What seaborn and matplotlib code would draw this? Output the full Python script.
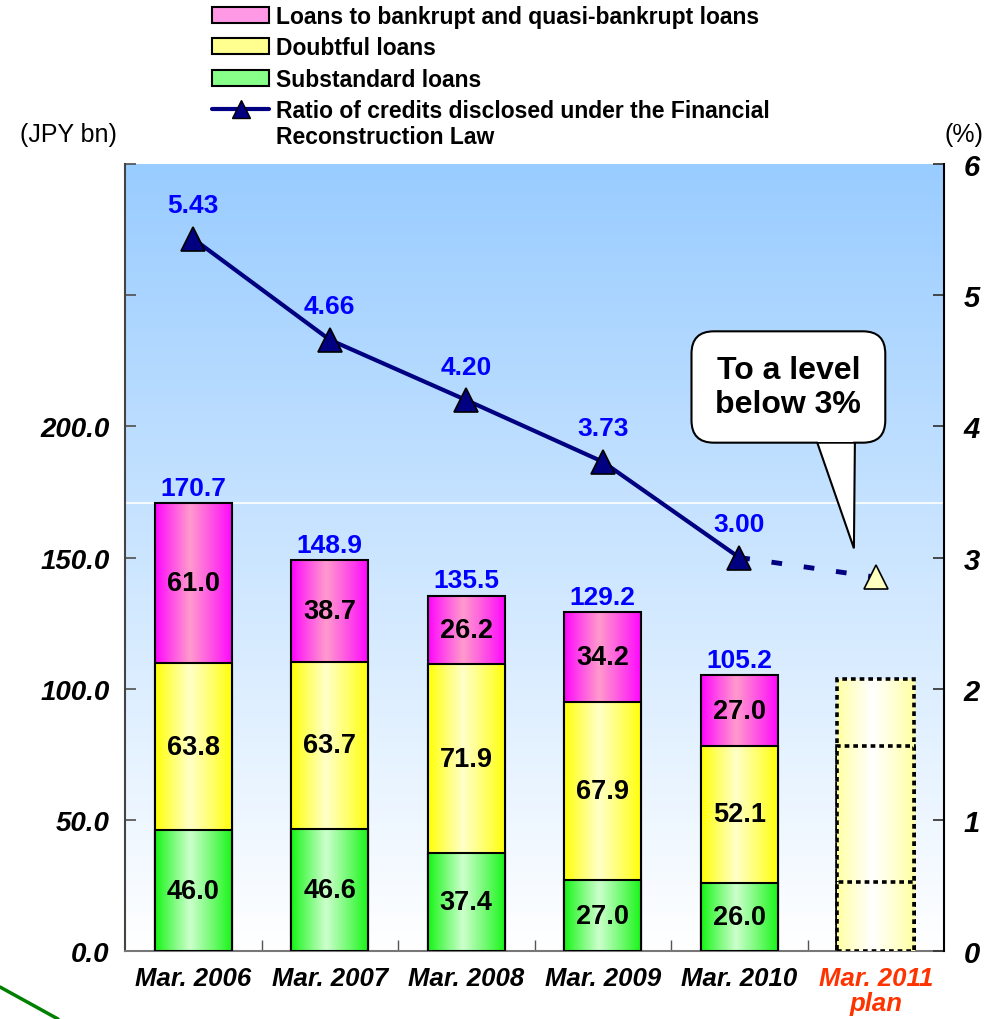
import numpy as np
import matplotlib
matplotlib.use("Agg")
import matplotlib.pyplot as plt
from matplotlib.colors import to_rgb
from matplotlib.patches import Patch, Polygon
from matplotlib.lines import Line2D
import seaborn as sns

# data
categories = ["Mar. 2006", "Mar. 2007", "Mar. 2008", "Mar. 2009", "Mar. 2010", "Mar. 2011\nplan"]
substandard = [46.0, 46.6, 37.4, 27.0, 26.0]
doubtful = [63.8, 63.7, 71.9, 67.9, 52.1]
bankrupt = [61.0, 38.7, 26.2, 34.2, 27.0]
totals = [170.7, 148.9, 135.5, 129.2, 105.2]
plan_segments = [26.3, 51.9, 25.5]  # outline only, no labels in the reference
ratio = [5.43, 4.66, 4.20, 3.73, 3.00]
ratio_plan = 2.85

left_ticks = [0, 50, 100, 150, 200, 250, 300]
left_labels = ["0.0", "50.0", "100.0", "150.0", "200.0", "", ""]
right_ticks = [0, 1, 2, 3, 4, 5, 6]

sns.set_theme(style="white")
plt.rcParams["font.family"] = ["Liberation Sans", "DejaVu Sans"]
plt.rcParams["text.color"] = "black"
plt.rcParams["xtick.labelcolor"] = "black"
plt.rcParams["ytick.labelcolor"] = "black"

NAVY = "#000080"
BLUE = "#0000FF"

fig = plt.figure(figsize=(10, 10.2), dpi=100)
ax = fig.add_axes([0.125, 0.0667, 0.819, 0.7715])

# background gradient (light blue at top to white at bottom)
top = np.array(to_rgb("#99CCFF"))
bot = np.array([1.0, 1.0, 1.0])
f = np.linspace(0, 1, 256)[:, None]
bg = (top * (1 - f) + bot * f)[:, None, :]
ax.imshow(bg, extent=[0, 1, 0, 1], transform=ax.transAxes, aspect="auto", zorder=0)
ax.axhline(totals[0], color="white", lw=1.2, zorder=0.5)

# cumulative heights, plan bar appended
s_all = substandard + [plan_segments[0]]
d_all = [a + b for a, b in zip(substandard, doubtful)] + [plan_segments[0] + plan_segments[1]]
t_all = [a + b + c for a, b, c in zip(substandard, doubtful, bankrupt)] + [sum(plan_segments)]

layers = [
    (t_all, "#FF00FF", "#FF9ACD"),
    (d_all, "#FFFF00", "#FFFFC8"),
    (s_all, "#10F510", "#CCFFCC"),
]
plan_edge, plan_mid = "#FFFFA0", "#FFFFFF"


def gradient_row(edge, mid, n=200):
    t = np.linspace(0, 1, n)
    p = np.where(t < 0.45, t / 0.45, (1 - t) / 0.55)
    p = np.clip(p, 0, 1) ** 0.9
    e = np.array(to_rgb(edge))
    m = np.array(to_rgb(mid))
    return (e[None, :] * (1 - p[:, None]) + m[None, :] * p[:, None])[None, :, :]


for k, (heights, edge, mid) in enumerate(layers):
    before = len(ax.patches)
    sns.barplot(x=categories, y=heights, color=edge, saturation=1, width=0.565,
                errorbar=None, ax=ax, edgecolor="black", linewidth=1.5)
    new = ax.patches[before:]
    for i, p in enumerate(new):
        z = 2 + k
        p.set_facecolor("none")
        p.set_zorder(z + 0.5)
        if i == len(new) - 1:
            img = gradient_row(plan_edge, plan_mid)
            if k == 0:
                p.set_linestyle((0, (1.3, 1.1)))
                p.set_linewidth(2.6)
            elif k == 1:
                p.set_linestyle((0, (1.3, 1.1)))
                p.set_linewidth(2.6)
            else:
                p.set_linestyle((0, (1.3, 1.1)))
                p.set_linewidth(2.6)
        else:
            img = gradient_row(edge, mid)
        x0, y0 = p.get_x(), p.get_y()
        im = ax.imshow(img, extent=[x0, x0 + p.get_width(), y0, y0 + p.get_height()],
                       aspect="auto", zorder=z, interpolation="bilinear")
        im.set_clip_path(p)

# segment labels
for i in range(len(substandard)):
    ys = [substandard[i] / 2,
          substandard[i] + doubtful[i] / 2,
          substandard[i] + doubtful[i] + bankrupt[i] / 2]
    for y, v in zip(ys, [substandard[i], doubtful[i], bankrupt[i]]):
        ax.text(i, y, f"{v:.1f}", ha="center", va="center", fontsize=19.5,
                fontweight="bold", color="black", zorder=10)
    ax.text(i, t_all[i] + 1.2, f"{totals[i]:.1f}", ha="center", va="bottom",
            fontsize=19, fontweight="bold", color=BLUE, zorder=10)

ax.set_xlim(-0.5, 5.5)
ax.set_ylim(0, 300)
ax.set_yticks(left_ticks)
ax.set_yticklabels(left_labels)
ax.set_xticks(range(len(categories)))
ax.set_xticklabels(categories)
ax.set_xticks(np.arange(0.5, 5.0, 1.0), minor=True)
ax.tick_params(axis="x", which="major", length=0, pad=11)
ax.tick_params(axis="x", which="minor", direction="in", length=8, color="#555555", bottom=True)
ax.tick_params(axis="y", direction="in", length=8, color="#555555", left=True, pad=11)
for lab in ax.get_yticklabels():
    lab.set_fontsize(20)
    lab.set_fontweight("bold")
    lab.set_fontstyle("italic")
for lab in ax.get_xticklabels():
    lab.set_fontsize(18.5)
    lab.set_fontweight("bold")
    lab.set_fontstyle("italic")
    lab.set_linespacing(1.05)
ax.get_xticklabels()[-1].set_color("#FF3300")
ax.set_xlabel("")
ax.set_ylabel("")
for s in ["top", "right"]:
    ax.spines[s].set_visible(False)
ax.spines["left"].set_color("#444444")
ax.spines["bottom"].set_color("#777777")
ax.spines["left"].set_linewidth(1.5)
ax.spines["bottom"].set_linewidth(1.5)

# ratio line on right axis
ax2 = ax.twinx()
ax2.plot([4, 5], [ratio[-1], ratio_plan], color=NAVY, lw=3.5, ls=(0, (2.2, 4.5)), zorder=3)
sns.lineplot(x=list(range(len(ratio))), y=ratio, ax=ax2, color=NAVY, lw=3,
             marker="^", markersize=17, markerfacecolor=NAVY, markeredgecolor="black",
             markeredgewidth=1.2, zorder=4)
ax2.plot([5], [ratio_plan], marker="^", markersize=17, color="#FFFFC0",
         markeredgecolor="black", markeredgewidth=1.2, ls="none", zorder=4)
for i, r in enumerate(ratio):
    ax2.annotate(f"{r:.2f}", (i, r), xytext=(0, 24), textcoords="offset points",
                 ha="center", va="center", fontsize=19, fontweight="bold", color=BLUE)
ax2.set_ylim(0, 6)
ax2.set_yticks(right_ticks)
ax2.set_yticklabels([str(t) for t in right_ticks])
ax2.tick_params(axis="y", direction="in", length=8, color="#333333", right=True, pad=14)
for lab in ax2.get_yticklabels():
    lab.set_fontsize(21)
    lab.set_fontweight("bold")
    lab.set_fontstyle("italic")
ax2.set_ylabel("")
ax2.grid(False)
for s in ["top", "left", "bottom"]:
    ax2.spines[s].set_visible(False)
ax2.spines["right"].set_color("black")
ax2.spines["right"].set_linewidth(1.5)

# callout: speech bubble with a tail pointing at the plan marker
tail = [(4.54, 3.97), (4.848, 3.97), (4.84, 3.07)]
ax2.add_patch(Polygon(tail, closed=True, fc="white", ec="black", lw=1.5, zorder=7))
ax2.text(4.36, 4.30, "To a level\nbelow 3%", ha="center", va="center", fontsize=23,
         fontweight="bold", zorder=8, linespacing=1.15,
         bbox=dict(boxstyle="round,pad=0.75,rounding_size=0.7", fc="white",
                   ec="black", lw=1.5))
mouth = [(4.555, 4.05), (4.835, 4.05), (4.835, 3.88), (4.575, 3.88)]
ax2.add_patch(Polygon(mouth, closed=True, fc="white", ec="none", zorder=9))

# legend
handles = [
    Patch(facecolor="#FF99E6", edgecolor="black", lw=1.5),
    Patch(facecolor="#FFFF90", edgecolor="black", lw=1.5),
    Patch(facecolor="#88FF88", edgecolor="black", lw=1.5),
    Line2D([], [], color=NAVY, lw=3, marker="^", markersize=13,
           markerfacecolor=NAVY, markeredgecolor="black"),
]
labels = ["Loans to bankrupt and quasi-bankrupt loans", "Doubtful loans",
          "Substandard loans",
          "Ratio of credits disclosed under the Financial"]
leg = fig.legend(handles, labels, loc="upper left", bbox_to_anchor=(0.212, 0.994),
                 frameon=False, prop=dict(size=16.5, weight="bold"),
                 handlelength=2.5, handleheight=0.7, handletextpad=0.3,
                 labelspacing=0.36, borderpad=0, borderaxespad=0)
for t in leg.get_texts():
    t.set_color("black")

fig.canvas.draw()
bb = leg.get_texts()[3].get_window_extent().transformed(fig.transFigure.inverted())
fig.text(bb.x0, bb.y0 - 0.003, "Reconstruction Law", fontsize=16.5, fontweight="bold",
         ha="left", va="top", color="black")

fig.text(0.02, 0.868, "(JPY bn)", fontsize=18, ha="left", va="center", color="black")
fig.text(0.945, 0.868, "(%)", fontsize=18, ha="left", va="center", color="black")

# stray green stroke in the lower-left corner
fig.add_artist(Line2D([0.0, 0.058], [1 - 988 / 1020, 0.0], transform=fig.transFigure,
                      color="#008000", lw=2.5))

fig.savefig("out.png", dpi=100)
